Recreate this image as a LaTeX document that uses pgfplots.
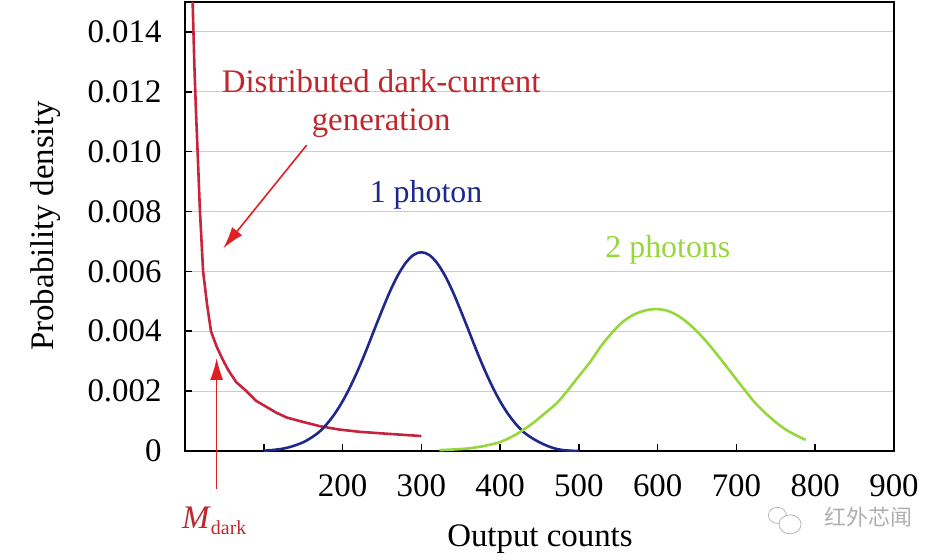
\documentclass[border=0pt]{standalone}
\usepackage{pgfplots}
\pgfplotsset{compat=1.18}
\usepackage{fontspec}
\setmainfont{Liberation Serif}
\newfontfamily\cjk{Noto Sans CJK SC}
\usetikzlibrary{arrows.meta}
\definecolor{redcurve}{RGB}{200,35,60}
\definecolor{redtext}{RGB}{190,40,45}
\definecolor{redarrow}{RGB}{225,30,35}
\definecolor{bluecurve}{RGB}{30,40,140}
\definecolor{greencurve}{RGB}{150,215,60}
\definecolor{gridgray}{RGB}{205,205,205}
\definecolor{wmgray}{RGB}{175,175,175}
\begin{document}
\begin{tikzpicture}
\path[use as bounding box] (-185bp,-109bp) rectangle (760bp,451bp);
\begin{axis}[
  at={(0,0)}, anchor=south west,
  scale only axis, width=709bp, height=449bp,
  xmin=0, xmax=900, ymin=0, ymax=0.015,
  xtick={0,100,...,900},
  xticklabels={,,200,300,400,500,600,700,800,900},
  ytick={0,0.002,0.004,0.006,0.008,0.010,0.012,0.014},
  yticklabels={0,0.002,0.004,0.006,0.008,0.010,0.012,0.014},
  xtick pos=bottom, ytick pos=left,
  tick align=inside,
  major tick length=7bp,
  every tick/.style={black, line width=1.6bp},
  axis line style={line width=2.4bp},
  ymajorgrids,
  grid style={gridgray, line width=0.9bp},
  ticklabel style={font=\fontsize{33}{36}\selectfont},
  xticklabel style={yshift=-20bp},
  yticklabel style={xshift=-20bp},
  xlabel={Output counts},
  ylabel={Probability density},
  every axis x label/.style={at={(axis description cs:0.5007,-0.2116)}, anchor=base, font=\fontsize{33}{38}\selectfont},
  every axis y label/.style={at={(axis description cs:-0.1858,0.501)}, rotate=90, anchor=base, font=\fontsize{33}{38}\selectfont},
  clip mode=individual,
]
\addplot[redcurve, line width=2.6bp] coordinates {
(9.7,0.0150) (12,0.0128) (14,0.0113) (16,0.0100) (19,0.0080) (23,0.0060)
(28,0.0049) (33,0.0040) (40,0.0035) (47,0.0031) (55,0.0027) (65,0.0023)
(78,0.0020) (90,0.00168) (103,0.00148) (116,0.00128) (129,0.00112) (150,0.00097)
(171,0.00083) (195,0.00072) (222,0.00064) (260,0.00057) (300,0.00050)
};
\addplot[bluecurve, line width=2.6bp, smooth] coordinates {
(100,0.00001) (110,0.00003) (120,0.00006) (130,0.00011) (140,0.00019) (150,0.00029)
(160,0.00044) (170,0.00063) (180,0.00090) (190,0.00124) (200,0.00166) (210,0.00216)
(220,0.00273) (230,0.00336) (240,0.00403) (250,0.00469) (260,0.00532) (270,0.00586)
(280,0.00628) (290,0.00655) (300,0.00664) (310,0.00655) (320,0.00628) (330,0.00586)
(340,0.00532) (350,0.00469) (360,0.00403) (370,0.00336) (380,0.00273) (390,0.00216)
(400,0.00166) (410,0.00124) (420,0.00090) (430,0.00063) (440,0.00044) (450,0.00029)
(460,0.00017) (470,0.00008) (480,0.00003) (490,0.00001) (500,0.00000)
};
\addplot[greencurve, line width=2.6bp, smooth] coordinates {
(323,0.00003) (340,0.00005) (361,0.00009) (380,0.00017) (400,0.00030) (420,0.00055)
(440,0.00090) (455,0.00122) (472,0.00160) (485,0.00200) (500,0.00250) (515,0.00300)
(528,0.00350) (542,0.00395) (555,0.00430) (570,0.00456) (585,0.00470) (599,0.00474)
(613,0.00468) (627,0.00450) (640,0.00424) (652,0.00394) (665,0.00356) (680,0.00307)
(695,0.00256) (711,0.00202) (724,0.00160) (737,0.00126) (750,0.00096) (763,0.00071)
(776,0.00052) (788,0.00037)
};
\node[redtext, font=\fontsize{33}{38.5}\selectfont, align=center, anchor=center]
  at (axis cs:249,0.01160) {Distributed dark-current\\generation};
\draw[redarrow, line width=1.6bp, -{Latex[length=22bp,width=13bp]}]
  (axis cs:154.5,0.01022) -- (axis cs:48.6,0.00677);
\draw[redarrow, line width=1.6bp, -{Latex[length=22bp,width=13bp]}]
  (axis cs:40.2,-0.00127) -- (axis cs:40.2,0.00311);
\node[bluecurve, font=\fontsize{32}{36}\selectfont] at (axis cs:306,0.00855) {1 photon};
\node[greencurve, font=\fontsize{32}{36}\selectfont] at (axis cs:613,0.00671) {2 photons};
\node[redtext, font=\fontsize{33}{36}\selectfont, anchor=base west, inner sep=0pt]
  at (axis cs:-4,-0.00259) {\textit{M}\raisebox{-6bp}{\fontsize{20}{22}\selectfont dark}};
\node[wmgray, font=\fontsize{22}{24}\cjk\selectfont, anchor=center]
  at (axis cs:868,-0.00221) {红外芯闻};
\draw[wmgray, line width=0.7bp] (axis cs:752,-0.00215) ellipse [x radius=9bp, y radius=8bp];
\draw[wmgray, line width=0.7bp, fill=white] (axis cs:768,-0.00245) ellipse [x radius=11bp, y radius=9.5bp];
\end{axis}
\end{tikzpicture}
\end{document}
